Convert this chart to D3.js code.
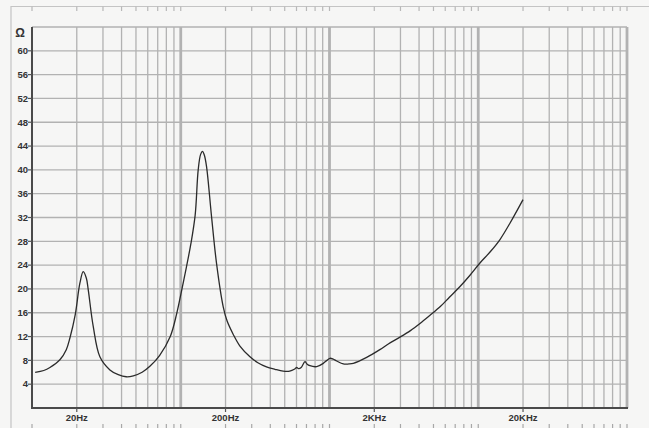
<!DOCTYPE html>
<html>
<head>
<meta charset="utf-8">
<script src="https://cdn.jsdelivr.net/npm/d3@7"></script>
<style>
  html, body { margin: 0; padding: 0; background: #f6f6f5; }
  svg { display: block; }
  text { font-family: "Liberation Sans", Arial, sans-serif; fill: #333; }
</style>
</head>
<body>
<div id="chart"></div>
<script>
// Impedance curve: frequency (Hz) and magnitude (ohms)
const freqHz = [10.5, 12, 13.2, 15.4, 17, 18, 19.5, 21, 22.1, 23.2, 23.9, 25.8, 28.6, 33.4, 38, 43, 48, 55, 62, 72,
  85, 94, 101.5, 109, 117, 125, 131, 136, 140, 144, 149, 161, 174, 193, 205, 225, 250, 292, 330,
  377, 430, 488, 540, 580, 602, 620, 645, 684, 705, 739, 820, 908, 960, 1007, 1060, 1117, 1239, 1350, 1446,
  1778, 2180, 2500, 2978, 3500, 4058, 4700, 5535, 6400, 7540, 8800, 10300, 12000, 14000, 16300, 20000];
const impedance = [6.0, 6.3, 6.8, 8.1, 9.8, 11.8, 15.6, 21.0, 22.9, 21.8, 19.8, 13.7, 8.6, 6.4, 5.6, 5.25, 5.4, 6.0, 7.0, 8.8,
  12.0, 15.9, 19.8, 23.6, 27.6, 32.4, 40.0, 42.6, 43.1, 42.5, 40.6, 32.2, 24.3, 17.0, 14.6, 12.4, 10.4, 8.6, 7.6,
  6.9, 6.5, 6.2, 6.2, 6.5, 6.8, 6.6, 6.8, 7.8, 7.4, 7.1, 6.95, 7.5, 8.0, 8.35, 8.2, 7.9, 7.4, 7.4, 7.5,
  8.5, 9.8, 10.8, 11.9, 13.0, 14.2, 15.5, 17.0, 18.6, 20.4, 22.3, 24.4, 26.2, 28.3, 31.0, 35.0];

// Axis labels
const yTicks = [4, 8, 12, 16, 20, 24, 28, 32, 36, 40, 44, 48, 52, 56, 60];
const xLabelFreqs = [20, 200, 2000, 20000];
const xLabelText = ["20Hz", "200Hz", "2KHz", "20KHz"];
const unitLabel = "Ω";

const W = 649, H = 428;
const svg = d3.select("#chart").append("svg").attr("width", W).attr("height", H);

const x = d3.scaleLog().domain([10, 100000]).range([32, 627]);
const y = d3.scaleLinear().domain([0, 64]).range([408, 27]);

// Grid frequencies: 1..9 per decade from 10 Hz to 100 kHz
const gridF = [];
for (let d = 10; d < 100000; d *= 10) for (let m = 1; m < 10; m++) gridF.push(m * d);
gridF.push(100000);
const isDecade = f => Math.abs(Math.log10(f) - Math.round(Math.log10(f))) < 1e-9;

const gridCol = "#b2b2b2";

// Outer frame with tick rows (top and bottom)
svg.append("line").attr("x1", 11).attr("x2", W).attr("y1", 6.5).attr("y2", 6.5)
  .attr("stroke", "#c4c4c4").attr("stroke-width", 1.2);
svg.append("line").attr("x1", 11).attr("x2", 11).attr("y1", 6).attr("y2", H)
  .attr("stroke", "#c4c4c4").attr("stroke-width", 1.2);
svg.append("g").selectAll("line").data(gridF).join("line")
  .attr("x1", d => x(d)).attr("x2", d => x(d)).attr("y1", 6.5).attr("y2", 11)
  .attr("stroke", "#b8b8b8").attr("stroke-width", 1.2);
svg.append("g").selectAll("line").data(gridF).join("line")
  .attr("x1", d => x(d)).attr("x2", d => x(d)).attr("y1", 424).attr("y2", H)
  .attr("stroke", "#a8a8a8").attr("stroke-width", 1.2);

// Horizontal grid
svg.append("g").selectAll("line").data(d3.range(4, 65, 4)).join("line")
  .attr("x1", 32).attr("x2", 627).attr("y1", d => y(d)).attr("y2", d => y(d))
  .attr("stroke", gridCol).attr("stroke-width", d => d === 64 ? 1.6 : 1.3);

// Vertical grid (decades drawn heavier)
svg.append("g").selectAll("line").data(gridF.filter(f => f > 10)).join("line")
  .attr("x1", d => x(d)).attr("x2", d => x(d)).attr("y1", 27).attr("y2", 408)
  .attr("stroke", gridCol).attr("stroke-width", d => isDecade(d) ? 2.8 : 1.3);

// Axes
svg.append("line").attr("x1", 32).attr("x2", 32).attr("y1", 27).attr("y2", 409)
  .attr("stroke", "#4a4a4a").attr("stroke-width", 2);
svg.append("line").attr("x1", 31).attr("x2", 628).attr("y1", 408).attr("y2", 408)
  .attr("stroke", "#4a4a4a").attr("stroke-width", 2);

// Y tick marks and labels
const yg = svg.append("g");
yg.selectAll("line").data(yTicks).join("line")
  .attr("x1", 28).attr("x2", 32).attr("y1", d => y(d)).attr("y2", d => y(d))
  .attr("stroke", "#555").attr("stroke-width", 1.2);
yg.selectAll("text").data(yTicks).join("text")
  .attr("x", 28).attr("y", d => y(d) + 3.3).attr("text-anchor", "end")
  .attr("font-size", 9.5).attr("font-weight", "bold").text(d => d);
svg.append("text").attr("x", 20).attr("y", 37).attr("text-anchor", "middle")
  .attr("font-size", 12).attr("font-weight", "bold").text(unitLabel);

// X labels
const xg = svg.append("g");
xg.selectAll("line").data(xLabelFreqs).join("line")
  .attr("x1", d => x(d)).attr("x2", d => x(d)).attr("y1", 408).attr("y2", 412)
  .attr("stroke", "#555").attr("stroke-width", 1.2);
xg.selectAll("text").data(xLabelFreqs).join("text")
  .attr("x", d => x(d)).attr("y", 421).attr("text-anchor", "middle")
  .attr("font-size", 9.5).attr("font-weight", "bold").text((d, i) => xLabelText[i]);

// Impedance curve
const pts = freqHz.map((f, i) => [f, impedance[i]]);
const line = d3.line().x(d => x(d[0])).y(d => y(d[1])).curve(d3.curveCatmullRom.alpha(0.5));
svg.append("path").datum(pts).attr("d", line)
  .attr("fill", "none").attr("stroke", "#2b2b2b").attr("stroke-width", 1.3)
  .attr("stroke-linejoin", "round");
</script>
</body>
</html>
